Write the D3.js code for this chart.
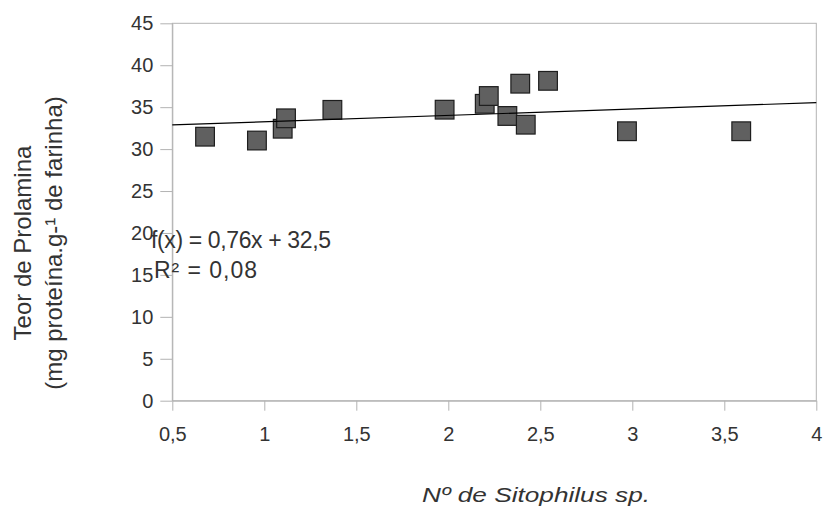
<!DOCTYPE html>
<html><head><meta charset="utf-8">
<script src="https://cdn.jsdelivr.net/npm/d3@7"></script>
<style>
html,body{margin:0;padding:0;background:#fff;}
svg{display:block;font-family:"Liberation Sans",Arial,sans-serif;}
</style></head>
<body>
<svg id="chart" width="824" height="506"></svg>
<script>
const xValues = [0.678, 0.960, 1.100, 1.118, 1.370, 1.980, 2.198, 2.220, 2.321, 2.421, 2.391, 2.542, 2.971, 3.592];
const yValues = [31.48, 31.02, 32.43, 33.67, 34.68, 34.70, 35.40, 36.33, 33.95, 32.91, 37.80, 38.14, 32.13, 32.13];
const xTickValues = [0.5, 1, 1.5, 2, 2.5, 3, 3.5, 4];
const yTickValues = [0, 5, 10, 15, 20, 25, 30, 35, 40, 45];
const trendSlope = 0.76;
const trendIntercept = 32.5;
const equationLines = ["f(x) = 0,76x + 32,5", "R² = 0,08"];
const yTitleLines = ["Teor de Prolamina", "(mg proteína.g-¹ de farinha)"];
const xTitle = "Nº de Sitophilus sp.";

(function () {
const svg = d3.select("#chart");
const pL = 172.3, pR = 816.3, pT = 23.3, pB = 400.7;
const x = d3.scaleLinear().domain([0.5, 4]).range([pL, pR]);
const y = d3.scaleLinear().domain([0, 45]).range([pB, pT]);
const axisColor = "#b3b3b3", textColor = "#333";
const fmt = d => String(d).replace(".", ",");

svg.append("rect").attr("x", pL).attr("y", pT)
  .attr("width", pR - pL).attr("height", pB - pT)
  .attr("fill", "none").attr("stroke", axisColor).attr("stroke-width", 1);

const gx = svg.append("g").attr("transform", `translate(0,${pB})`)
  .call(d3.axisBottom(x).tickValues(xTickValues).tickFormat(fmt).tickSize(10).tickPadding(16).tickSizeOuter(0));
const gy = svg.append("g").attr("transform", `translate(${pL},0)`)
  .call(d3.axisLeft(y).tickValues(yTickValues).tickFormat(d => d).tickSize(12).tickPadding(7).tickSizeOuter(0));
[gx, gy].forEach(g => {
  g.select(".domain").attr("stroke", axisColor);
  g.selectAll(".tick line").attr("stroke", axisColor);
  g.selectAll(".tick text").attr("fill", textColor).attr("font-size", 20)
    .attr("font-family", '"Liberation Sans",Arial,sans-serif');
});

const size = 18.7;
svg.append("g").selectAll("rect").data(xValues.map((v, i) => [v, yValues[i]])).join("rect")
  .attr("x", d => x(d[0]) - size / 2).attr("y", d => y(d[1]) - size / 2)
  .attr("width", size).attr("height", size)
  .attr("fill", "#606060").attr("stroke", "#1e1e1e").attr("stroke-width", 1.2);

const xd = x.domain();
svg.append("line")
  .attr("x1", x(xd[0])).attr("y1", y(trendSlope * xd[0] + trendIntercept))
  .attr("x2", x(xd[1])).attr("y2", y(trendSlope * xd[1] + trendIntercept))
  .attr("stroke", "#000").attr("stroke-width", 1.2);

svg.append("text").attr("x", 151).attr("y", 247.7).attr("font-size", 23).attr("fill", textColor)
  .attr("textLength", 180).attr("lengthAdjust", "spacing").text(equationLines[0]);
svg.append("text").attr("x", 154).attr("y", 278.3).attr("font-size", 23).attr("fill", textColor)
  .attr("textLength", 103).attr("lengthAdjust", "spacing").text(equationLines[1]);

const yt = svg.append("g").attr("transform", "translate(0,243) rotate(-90)");
yt.append("text").attr("x", 0).attr("y", 31).attr("text-anchor", "middle").attr("font-size", 24).attr("fill", textColor).text(yTitleLines[0]);
yt.append("text").attr("x", 0).attr("y", 62).attr("text-anchor", "middle").attr("font-size", 24).attr("fill", textColor).text(yTitleLines[1]);

svg.append("text").attr("x", 422).attr("y", 501.5).attr("font-size", 21).attr("font-style", "italic")
  .attr("fill", textColor).attr("textLength", 228).attr("lengthAdjust", "spacingAndGlyphs").text(xTitle);
})();
</script>
</body></html>
